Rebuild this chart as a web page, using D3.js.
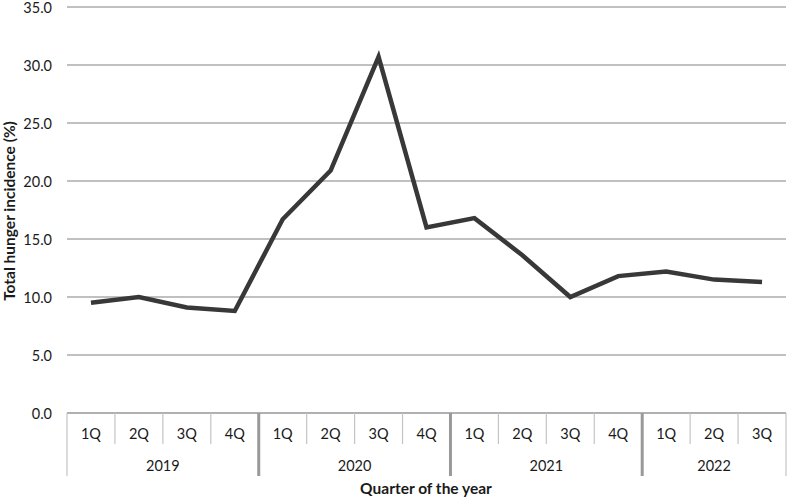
<!DOCTYPE html>
<html><head><meta charset="utf-8">
<script src="https://cdn.jsdelivr.net/npm/d3@7"></script>
<style>body{margin:0;background:#fff}svg{display:block}text{font-family:Lato,"Open Sans",sans-serif;fill:#1a1a1a}</style>
</head><body><svg id="c" width="787" height="498"></svg>
<script>
const years = ["2019","2020","2021","2022"];
const quarters = ["1Q","2Q","3Q","4Q","1Q","2Q","3Q","4Q","1Q","2Q","3Q","4Q","1Q","2Q","3Q"];
const yearOf = ["2019","2019","2019","2019","2020","2020","2020","2020","2021","2021","2021","2021","2022","2022","2022"];
const values = [9.5,10.0,9.1,8.8,16.7,20.9,30.7,16.0,16.8,13.6,10.0,11.8,12.2,11.5,11.3];
const yTicks = [0,5,10,15,20,25,30,35];

const svg = d3.select("#c");
const L = 67, R = 786, T = 7, B = 413;
const FONT = 'Lato,"Open Sans",sans-serif';
const idx = d3.range(values.length);
const x = d3.scaleBand().domain(idx).range([L, R]);
const y = d3.scaleLinear().domain([0, 35]).range([B, T]);

// gridlines
svg.append("g").selectAll("line").data(yTicks).join("line")
  .attr("x1", L).attr("x2", R).attr("y1", d => y(d)).attr("y2", d => y(d))
  .attr("stroke", "#ababab").attr("stroke-width", 1.5);

// y axis labels
const ya = svg.append("g").attr("transform", `translate(${L},0)`)
  .call(d3.axisLeft(y).tickValues(yTicks).tickFormat(d3.format(".1f")).tickSize(0).tickPadding(15));
ya.select(".domain").remove();
ya.selectAll("text").attr("font-size", 14.5).attr("fill", "#1a1a1a").attr("font-family", FONT)
  .attr("dy", "0.36em");

// category table
const tb = svg.append("g");
tb.append("line").attr("x1", L).attr("x2", R).attr("y1", B).attr("y2", B).attr("stroke", "#ababab").attr("stroke-width", 1.5);
idx.forEach(i => {
  if (i === 0) return;
  const boundary = yearOf[i] !== yearOf[i-1];
  tb.append("line").attr("x1", x(i)).attr("x2", x(i)).attr("y1", B).attr("y2", boundary ? 476 : 444)
    .attr("stroke", boundary ? "#999" : "#c4c4c4").attr("stroke-width", boundary ? 3 : 1.2);
});
[L, R].forEach(px => tb.append("line").attr("x1", px).attr("x2", px).attr("y1", B).attr("y2", 476)
  .attr("stroke", "#c4c4c4").attr("stroke-width", 1.2));
tb.selectAll("text.q").data(idx).join("text").attr("class", "q")
  .attr("x", i => x(i) + x.bandwidth()/2).attr("y", 439).attr("text-anchor", "middle")
  .attr("font-size", 14.5).text(i => quarters[i]);
years.forEach(yr => {
  const ids = idx.filter(i => yearOf[i] === yr);
  const cx = (x(ids[0]) + x(ids[ids.length-1]) + x.bandwidth()) / 2;
  tb.append("text").attr("x", cx).attr("y", 471).attr("text-anchor", "middle").attr("font-size", 14.5).text(yr);
});

// line
svg.append("path").datum(idx)
  .attr("d", d3.line().x(i => x(i) + x.bandwidth()/2).y(i => y(values[i])))
  .attr("fill", "none").attr("stroke", "#383838").attr("stroke-width", 4.5).attr("stroke-linejoin", "miter");

// titles
svg.append("text").attr("x", 426).attr("y", 494).attr("text-anchor", "middle")
  .attr("font-size", 15.5).attr("font-weight", "bold").text("Quarter of the year");
svg.append("text").attr("transform", "translate(15,211) rotate(-90)").attr("text-anchor", "middle")
  .attr("font-size", 15.5).attr("font-weight", "bold").text("Total hunger incidence (%)");
</script></body></html>
